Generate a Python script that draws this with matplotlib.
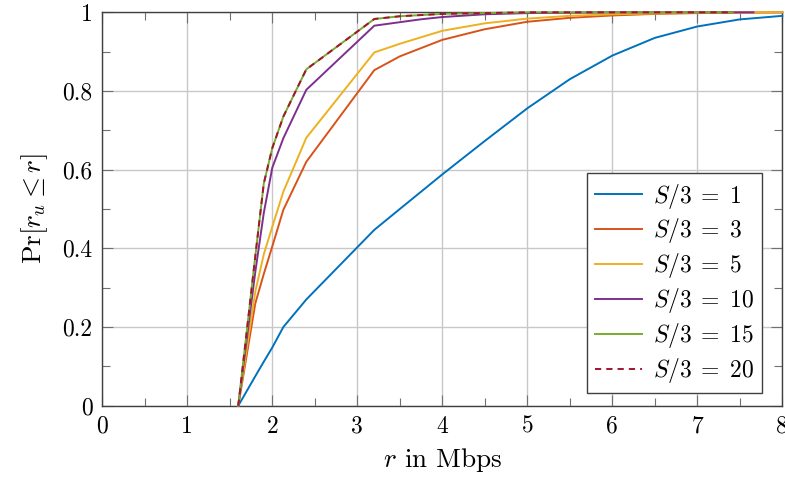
import numpy as np
import matplotlib
matplotlib.use("Agg")
import matplotlib.pyplot as plt
from matplotlib.ticker import MultipleLocator

plt.rcParams['font.family'] = 'serif'
plt.rcParams['font.serif'] = ['cmr10']
plt.rcParams['mathtext.fontset'] = 'cm'
plt.rcParams['axes.formatter.use_mathtext'] = True

# data (rate r in Mbps, CDF value)
x_s1 = [1.6, 1.8, 1.9, 2.0, 2.13, 2.4, 3.2, 3.5, 4.0, 4.5, 5.0, 5.5, 6.0, 6.5, 7.0, 7.5, 8.0]
y_s1 = [0.0, 0.075, 0.112, 0.148, 0.2, 0.27, 0.447, 0.50, 0.588, 0.673, 0.756, 0.83, 0.89, 0.935, 0.964, 0.982, 0.991]

x_s3 = [1.6, 1.8, 1.9, 2.0, 2.13, 2.4, 3.2, 3.5, 4.0, 4.5, 5.0, 5.5, 6.0, 6.5, 7.0, 8.0]
y_s3 = [0.0, 0.26, 0.335, 0.405, 0.498, 0.62, 0.853, 0.888, 0.93, 0.957, 0.976, 0.986, 0.992, 0.996, 0.998, 1.0]

x_s5 = [1.6, 1.8, 1.9, 2.0, 2.13, 2.4, 3.2, 3.5, 4.0, 4.5, 5.0, 5.5, 6.0, 7.0, 8.0]
y_s5 = [0.0, 0.29, 0.385, 0.455, 0.544, 0.681, 0.898, 0.92, 0.953, 0.972, 0.984, 0.991, 0.995, 0.999, 1.0]

x_s10 = [1.6, 1.8, 1.9, 2.0, 2.13, 2.4, 3.2, 3.74, 4.0, 4.5, 5.0, 6.0, 7.66]
y_s10 = [0.0, 0.34, 0.49, 0.605, 0.68, 0.803, 0.966, 0.982, 0.988, 0.995, 0.998, 1.0, 1.0]

x_s15 = [1.6, 1.8, 1.9, 2.0, 2.13, 2.4, 3.2, 3.5, 4.0, 5.0, 7.42]
y_s15 = [0.0, 0.38, 0.565, 0.655, 0.735, 0.855, 0.983, 0.99, 0.996, 1.0, 1.0]

x_s20 = list(x_s15)
y_s20 = list(y_s15)

x_ticks = [0, 1, 2, 3, 4, 5, 6, 7, 8]
y_ticks = [0, 0.2, 0.4, 0.6, 0.8, 1.0]
y_ticklabels = ['0', '0.2', '0.4', '0.6', '0.8', '1']

labels = [r'$S/3\;=\;1$', r'$S/3\;=\;3$', r'$S/3\;=\;5$',
          r'$S/3\;=\;10$', r'$S/3\;=\;15$', r'$S/3\;=\;20$']
colors = ['#0072BD', '#D95319', '#EDB120', '#7E2F8E', '#77AC30', '#A2142F']

fig = plt.figure(figsize=(7.85, 4.79), dpi=100)
ax = fig.add_axes([0.1303, 0.153, 0.8663, 0.8213])

series = [(x_s1, y_s1), (x_s3, y_s3), (x_s5, y_s5),
          (x_s10, y_s10), (x_s15, y_s15)]
for (xs, ys), lab, c in zip(series, labels[:5], colors[:5]):
    ax.plot(xs, ys, color=c, lw=1.4, label=lab, clip_on=False, zorder=3)
ax.plot(x_s20, y_s20, color=colors[5], lw=1.4, ls=(0, (3.2, 2.6)),
        label=labels[5], clip_on=False, zorder=3)

ax.set_xlim(0, 8)
ax.set_ylim(0, 1)
ax.set_xticks(x_ticks)
ax.set_xticklabels([str(v) for v in x_ticks])
ax.set_yticks(y_ticks)
ax.set_yticklabels(y_ticklabels)
ax.xaxis.set_minor_locator(MultipleLocator(0.5))
ax.yaxis.set_minor_locator(MultipleLocator(0.1))

ax.tick_params(which='both', direction='in', top=True, right=True,
               color='#707070', labelsize=17)
ax.tick_params(which='major', length=8, width=0.8, pad=7)
ax.tick_params(which='minor', length=5.5, width=0.8)

ax.grid(True, which='major', color='#c8c8c8', lw=1.0)
ax.set_axisbelow(True)
for sp in ax.spines.values():
    sp.set_color('#404040')
    sp.set_linewidth(1.0)

ax.set_xlabel(r'$r$ in Mbps', fontsize=19.5, labelpad=6)
ax.set_ylabel(r'$\mathrm{Pr}[r_u \leq r]$', fontsize=19.5, labelpad=9)

leg = ax.legend(loc='lower right', fontsize=17, frameon=True, fancybox=False,
                framealpha=1, edgecolor='#404040', handlelength=2.0,
                labelspacing=0.25, borderpad=0.35, handletextpad=0.45,
                borderaxespad=0, bbox_to_anchor=(0.9697, 0.0315))
leg.get_frame().set_linewidth(1.0)

fig.savefig('out.png', dpi=100)
